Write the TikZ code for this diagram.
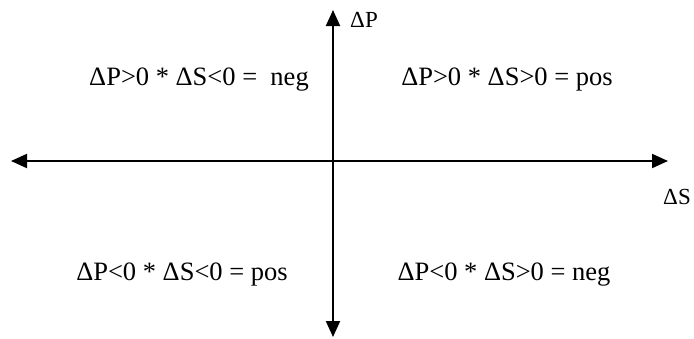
\documentclass[tikz,border=0pt]{standalone}
\usepackage{fontspec}
\setmainfont{Liberation Serif}
\usetikzlibrary{arrows.meta}

\begin{document}
\begin{tikzpicture}[x=1pt,y=-1pt,
  axis/.style={line width=2pt,{Triangle[length=16pt,width=14pt]}-{Triangle[length=16pt,width=14pt]}},
  quad/.style={font=\fontsize{26.5}{29}\selectfont,inner sep=0pt},
  axlabel/.style={font=\fontsize{23}{26}\selectfont,inner sep=0pt}]
\useasboundingbox (0,0) rectangle (694,338);
% axes
\coordinate (W) at (11,161);
\coordinate (E) at (668,161);
\coordinate (N) at (333,10);
\coordinate (S) at (333,337);
\draw[axis] (W) -- (E);
\draw[axis] (S) -- (N);
\node[axlabel] (dp) at (364,20) {ΔP};
\node[axlabel] (ds) at (677,197) {ΔS};
% quadrants
\node[quad] (q2) at (199,80) {ΔP>0 * ΔS<0 = \ neg};
\node[quad] (q1) at (507,80) {ΔP>0 * ΔS>0 = pos};
\node[quad] (q3) at (182,275) {ΔP<0 * ΔS<0 = pos};
\node[quad] (q4) at (504,275) {ΔP<0 * ΔS>0 = neg};
\end{tikzpicture}
\end{document}
